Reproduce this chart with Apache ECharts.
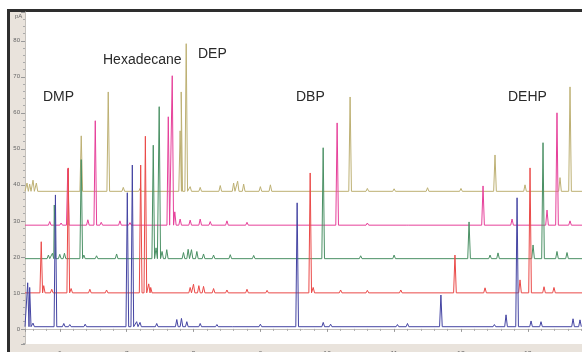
<!DOCTYPE html>
<html>
<head>
<meta charset="utf-8">
<script src="https://cdn.jsdelivr.net/npm/echarts@6/dist/echarts.min.js"></script>
<style>
html, body { margin: 0; padding: 0; background: #fff; overflow: hidden; }
#main { width: 582px; height: 352px; }
</style>
</head>
<body>
<div id="main"></div>
<script>
var xMin = 5.48, xMax = 13.81;
var yMin = -4.2, yMax = 88;

var traceNames = ['blue', 'red', 'green', 'pink', 'olive'];
var baselines = [0.6, 10, 19.5, 28.8, 38.2];

// peaks: [time, apex pA]
var bluePeaks = [
    [5.52, 12.8], [5.55, 11.5], [5.60, 1.6], [5.935, 37.2], [6.06, 1.5], [6.15, 1.2], [6.38, 1.3],
    [7.01, 37.8], [7.085, 45.5], [7.15, 2.0], [7.20, 1.8], [7.45, 1.5], [7.75, 2.6], [7.82, 2.9],
    [7.90, 2.0], [8.10, 1.5], [8.35, 1.2], [8.60, 1.0], [9.00, 1.3], [9.55, 35.0], [9.94, 1.8],
    [10.05, 1.3], [11.05, 1.2], [11.2, 1.5], [11.70, 9.4], [12.50, 1.2], [12.674, 3.9], [12.839, 36.4],
    [13.048, 2.2], [13.197, 2.0], [13.676, 2.8], [13.78, 2.5]
];
var redPeaks = [
    [5.723, 24.2], [5.76, 12.0], [5.88, 11.0], [6.127, 44.7], [6.17, 11.2], [6.45, 11.0], [6.70, 10.8],
    [7.21, 45.5], [7.28, 53.5], [7.33, 12.5], [7.36, 11.5], [7.95, 11.5], [8.00, 12.4], [8.08, 12.0],
    [8.15, 11.8], [8.30, 11.2], [8.50, 10.8], [8.80, 11.0], [9.10, 10.7], [9.745, 43.3], [9.79, 11.5],
    [10.20, 10.8], [10.60, 10.7], [11.10, 10.8], [11.91, 20.5], [12.36, 11.4], [12.883, 13.6],
    [13.033, 44.7], [13.242, 11.7], [13.391, 11.5]
];
var greenPeaks = [
    [5.83, 20.5], [5.89, 21.0], [5.918, 34.4], [6.00, 20.7], [6.07, 21.0], [6.321, 47.0], [6.36, 20.5],
    [6.55, 20.3], [6.85, 20.8], [7.398, 51.0], [7.44, 22.5], [7.487, 61.7], [7.53, 21.5], [7.60, 22.0],
    [7.85, 21.2], [7.92, 22.1], [7.97, 22.0], [8.05, 21.5], [8.15, 20.8], [8.30, 20.5], [8.55, 20.6],
    [8.90, 20.4], [9.939, 50.3], [10.50, 20.3], [11.00, 20.5], [12.121, 29.7], [12.435, 20.5],
    [12.554, 21.1], [13.078, 23.3], [13.227, 51.7], [13.436, 21.5], [13.586, 21.2]
];
var pinkPeaks = [
    [5.85, 29.8], [6.02, 29.4], [6.12, 44.5], [6.42, 30.3], [6.531, 57.8], [6.62, 29.6], [6.90, 30.0],
    [7.05, 29.5], [7.623, 58.9], [7.682, 70.3], [7.72, 32.5], [7.80, 30.5], [7.95, 30.2], [8.10, 30.5],
    [8.25, 29.8], [8.50, 30.0], [8.80, 29.6], [10.148, 57.2], [10.60, 29.4], [11.20, 29.3],
    [12.33, 39.7], [12.764, 30.5], [13.287, 33.0], [13.436, 60.0], [13.631, 30.0]
];
var olivePeaks = [
    [5.51, 40.5], [5.55, 40.2], [5.60, 41.3], [5.65, 40.5], [6.321, 53.6], [6.725, 65.8], [6.95, 39.3],
    [7.20, 39.0], [7.80, 55.0], [7.816, 65.8], [7.891, 79.2], [7.95, 39.5], [8.10, 39.3], [8.40, 39.8],
    [8.60, 40.5], [8.66, 41.0], [8.75, 40.2], [9.00, 39.5], [9.15, 40.0], [10.342, 64.4], [10.60, 39.0],
    [11.00, 38.9], [11.50, 39.2], [12.00, 39.0], [12.509, 48.3], [12.958, 40.0], [13.481, 42.0],
    [13.631, 67.2]
];
var allPeaks = [bluePeaks, redPeaks, greenPeaks, pinkPeaks, olivePeaks];

var compounds = ['DMP', 'Hexadecane', 'DEP', 'DBP', 'DEHP'];

var colors = ['#4444a2', '#ea4a48', '#4a9064', '#e6409a', '#bdb073'];
var HALF = 0.02;

function buildTrace(base, peaks) {
    var pts = [[xMin, base]];
    peaks.forEach(function (p) {
        pts.push([p[0] - HALF, base], [p[0], p[1]], [p[0] + HALF, base]);
    });
    pts.push([xMax, base]);
    return pts;
}

var series = [];
for (var i = traceNames.length - 1; i >= 0; i--) {
    series.push({
        name: traceNames[i],
        type: 'line',
        symbol: 'none',
        silent: true,
        lineStyle: { width: 1, color: colors[i] },
        data: buildTrace(baselines[i], allPeaks[i])
    });
}

var labelPos = [[43, 90], [103, 53], [198, 47], [296, 90], [508, 90]];
var graphics = [
    { type: 'rect', z: -10, shape: { x: 7, y: 9, width: 575, height: 3 }, style: { fill: '#2e2e2e' } },
    { type: 'rect', z: -10, shape: { x: 7, y: 9, width: 3, height: 343 }, style: { fill: '#2e2e2e' } },
    { type: 'rect', z: -9, shape: { x: 10, y: 12, width: 572, height: 340 }, style: { fill: '#e9e3dc' } },
    { type: 'text', z: 100, left: 15, top: 13, style: { text: 'pA', fontSize: 6, fill: '#666', fontFamily: 'Liberation Sans' } }
];
compounds.forEach(function (c, k) {
    graphics.push({
        type: 'text', z: 100, left: labelPos[k][0], top: labelPos[k][1],
        style: { text: c, fontSize: 14, fill: '#2a2a2a', fontFamily: 'Liberation Sans' }
    });
});

var chart = echarts.init(document.getElementById('main'));
chart.setOption({
    animation: false,
    backgroundColor: '#fff',
    graphic: graphics,
    grid: {
        left: 25, right: 0, top: 12, bottom: 8, show: true, backgroundColor: '#fff', borderWidth: 0,
        containLabel: false, outerBoundsMode: 'none'
    },
    xAxis: {
        type: 'value', min: xMin, max: xMax, splitNumber: 8,
        axisLine: { lineStyle: { color: '#c4c0bb', width: 1 } },
        axisTick: { length: 3, lineStyle: { color: '#999' } },
        minorTick: { show: true, splitNumber: 5, length: 2, lineStyle: { color: '#aaa' } },
        axisLabel: { fontSize: 7, color: '#666', margin: 7, showMinLabel: false, showMaxLabel: false, fontFamily: 'Liberation Sans' },
        splitLine: { show: false }
    },
    yAxis: {
        type: 'value', min: yMin, max: yMax, splitNumber: 9,
        axisLine: { show: true, lineStyle: { color: '#c4c0bb', width: 1 } },
        axisTick: { show: true, length: 4, lineStyle: { color: '#999' } },
        minorTick: { show: true, splitNumber: 5, length: 2, lineStyle: { color: '#aaa' } },
        axisLabel: { fontSize: 6, color: '#666', margin: 5, showMinLabel: false, showMaxLabel: false, fontFamily: 'Liberation Sans' },
        splitLine: { show: false }
    },
    series: series
});
</script>
</body>
</html>
